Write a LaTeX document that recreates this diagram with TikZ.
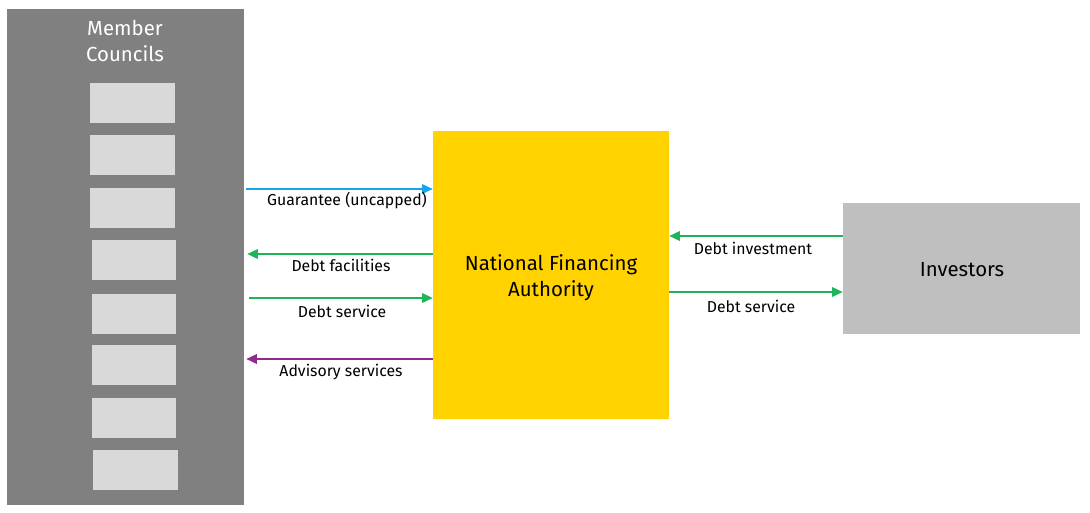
\documentclass[tikz,border=0pt]{standalone}
\usepackage{fontspec}
\setmainfont{Fira Sans}
\usetikzlibrary{arrows.meta}
\definecolor{councilgrey}{HTML}{808080}
\definecolor{boxgrey}{HTML}{D9D9D9}
\definecolor{investgrey}{HTML}{BFBFBF}
\definecolor{nfayellow}{HTML}{FFD200}
\definecolor{guarblue}{HTML}{1AA3E8}
\definecolor{debtgreen}{HTML}{1DB45A}
\definecolor{advpurple}{HTML}{8E2C8E}
\tikzset{
	block/.style={inner sep=0pt, align=center, font=\fontsize{11.6}{14.7}\selectfont},
	flow/.style={line width=0.7pt, -{Triangle[length=6pt,width=5.5pt]}},
	flowlabel/.style={font=\fontsize{9}{10}\selectfont, inner sep=0pt}
}
\begin{document}
\begin{tikzpicture}[x=0.02cm,y=-0.02cm]
	\useasboundingbox (0,0) rectangle (1090,512);
	% left panel with the councils
	\node[block, fill=councilgrey, minimum width=4.74cm, minimum height=9.92cm] (councils) at (125.5,257) {};
	\node[block, text=white] (councilstitle) at (125,41) {Member\\Councils};
	\foreach \bx/\by [count=\i] in {132.5/103, 132.5/155, 132.5/208, 134/260, 134/313.5, 134/364.5, 134/418, 135.5/470}
		\node[block, fill=boxgrey, minimum width=1.7cm, minimum height=0.8cm] (council\i) at (\bx,\by) {};
	
	% middle and right blocks
	\node[block, fill=nfayellow, minimum width=4.72cm, minimum height=5.76cm] (nfa) at (551,275) {};
	\node[block] (nfatext) at (551,278) {National Financing\\Authority};
	\node[block, fill=investgrey, minimum width=4.74cm, minimum height=2.62cm] (investors) at (961.5,268.5) {};
	\node[block] (investtitle) at (962,270) {Investors};
	
	% levels of the arrows
	\coordinate (guar) at (0,189);
	\coordinate (facil) at (0,254);
	\coordinate (servl) at (0,298);
	\coordinate (advis) at (0,359);
	\coordinate (invest) at (0,236);
	\coordinate (servr) at (0,292);
	
	\draw[flow, guarblue] ([xshift=0.04cm]councils.east |- guar) -- (nfa.west |- guar);
	\draw[flow, debtgreen] (nfa.west |- facil) -- ([xshift=0.06cm]councils.east |- facil);
	\draw[flow, debtgreen] ([xshift=0.1cm]councils.east |- servl) -- (nfa.west |- servl);
	\draw[flow, advpurple] (nfa.west |- advis) -- ([xshift=0.04cm]councils.east |- advis);
	\draw[flow, debtgreen] (investors.west |- invest) -- (nfa.east |- invest);
	\draw[flow, debtgreen] (nfa.east |- servr) -- (investors.west |- servr);
	
	\node[flowlabel] (guarlabel) at (347,200) {Guarantee (uncapped)};
	\node[flowlabel] (faciltext) at (341,265) {Debt facilities};
	\node[flowlabel] (servltext) at (342,311) {Debt service};
	\node[flowlabel] (advistext) at (341,372) {Advisory services};
	\node[flowlabel] (investtext) at (753,248) {Debt investment};
	\node[flowlabel] (servrtext) at (751,306) {Debt service};
\end{tikzpicture}
\end{document}
